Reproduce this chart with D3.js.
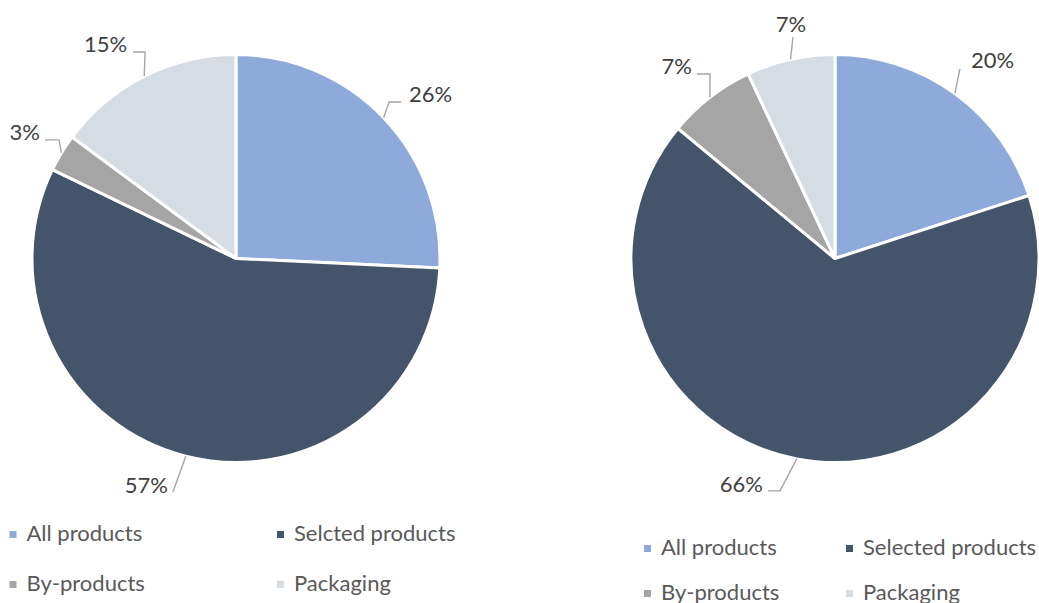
<!DOCTYPE html>
<html>
<head>
<meta charset="utf-8">
<script src="https://cdn.jsdelivr.net/npm/d3@7"></script>
<style>
  html, body { margin: 0; padding: 0; background: #ffffff; }
  svg { display: block; font-family: Lato, "Open Sans", sans-serif; }
</style>
</head>
<body>
<svg id="chart" width="1039" height="603"></svg>
<script>
// Category names and shares (percent) for the two pies
const leftCategories  = ["All products", "Selcted products", "By-products", "Packaging"];
const leftValues      = [26, 57, 3, 15];
const rightCategories = ["All products", "Selected products", "By-products", "Packaging"];
const rightValues     = [20, 66, 7, 7];
const sliceColors     = ["#8eaadb", "#44546a", "#a5a5a5", "#d6dce4"];

const svg = d3.select("#chart");
const radius = 204;

// Leader-line geometry for each slice label: elbow offset from the slice rim,
// horizontal tail length, and text offset from the tail end.
const leftLabelLayout = [
  { dx: 5.5,   dy: -15.7, tail: 12,  tx: 8,  ty: 0,  anchor: "start" },
  { dx: -12.8, dy: 35.8,  tail: 0,   tx: -5, ty: 1,  anchor: "end" },
  { dx: -2.5,  dy: -13,   tail: -14, tx: -5, ty: 0,  anchor: "end" },
  { dx: 0.8,   dy: -24.3, tail: -12, tx: -6, ty: 0,  anchor: "end" }
];
const rightLabelLayout = [
  { dx: 5,     dy: -24.5, tail: 0,   tx: 11, ty: -1, anchor: "start" },
  { dx: -16.8, dy: 32,    tail: -12, tx: -5, ty: 1,  anchor: "end" },
  { dx: 0,     dy: -23.3, tail: -13, tx: -5, ty: 0,  anchor: "end" },
  { dx: 2.5,   dy: -22.4, tail: 0,   tx: -2, ty: -5, anchor: "middle" }
];

function drawPie(opts) {
  const { categories, values, cx, cy, layout, legend } = opts;
  const color = d3.scaleOrdinal().domain(categories).range(sliceColors);
  const data = categories.map((c, i) => ({ category: c, value: values[i] }));

  const pie = d3.pie().sort(null).value(d => d.value);
  const arcs = pie(data);
  const arc = d3.arc().innerRadius(0).outerRadius(radius);
  const rim = d3.arc().innerRadius(radius).outerRadius(radius);

  const g = svg.append("g").attr("transform", `translate(${cx},${cy})`);

  g.selectAll("path.slice")
    .data(arcs)
    .join("path")
    .attr("class", "slice")
    .attr("d", arc)
    .attr("fill", d => color(d.data.category))
    .attr("stroke", "#ffffff")
    .attr("stroke-width", 3)
    .attr("stroke-linejoin", "round");

  // Leader lines and percentage labels
  arcs.forEach((d, i) => {
    const L = layout[i];
    const [ex, ey] = rim.centroid(d);
    const bx = ex + L.dx, by = ey + L.dy;
    const tx = bx + L.tail;
    g.append("polyline")
      .attr("points", [[ex, ey], [bx, by], [tx, by]].map(p => p.join(",")).join(" "))
      .attr("fill", "none")
      .attr("stroke", "#a6a6a6")
      .attr("stroke-width", 1.4);
    g.append("text")
      .attr("x", tx + L.tx)
      .attr("y", by + L.ty)
      .attr("text-anchor", L.anchor)
      .attr("font-size", 22)
      .attr("fill", "#404040")
      .text(d3.format(".0f")(d.data.value) + "%");
  });

  // Legend: two columns, two rows
  const lg = svg.append("g");
  const items = lg.selectAll("g.item")
    .data(categories)
    .join("g")
    .attr("class", "item")
    .attr("transform", (c, i) =>
      `translate(${legend.cols[i % 2]},${legend.rows[Math.floor(i / 2)]})`);
  items.append("rect")
    .attr("x", 0).attr("y", -10)
    .attr("width", 7).attr("height", 7)
    .attr("fill", c => color(c));
  items.append("text")
    .attr("x", 17)
    .attr("y", 0)
    .attr("font-size", 22)
    .attr("fill", "#595959")
    .text(c => c);
}

drawPie({
  categories: leftCategories, values: leftValues,
  cx: 236, cy: 258.5, layout: leftLabelLayout,
  legend: { cols: [9.5, 277], rows: [541, 591] }
});

drawPie({
  categories: rightCategories, values: rightValues,
  cx: 835, cy: 258.5, layout: rightLabelLayout,
  legend: { cols: [644, 846], rows: [555, 600] }
});
</script>
</body>
</html>
